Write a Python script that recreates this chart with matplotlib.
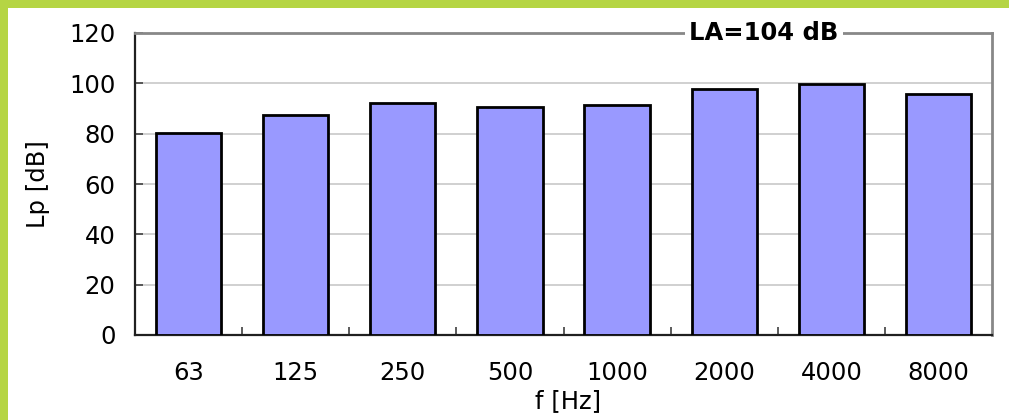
import matplotlib.pyplot as plt
import matplotlib.patches as mpatches
import numpy as np

freqs = ['63', '125', '250', '500', '1000', '2000', '4000', '8000']
lp_db = [80.2, 87.6, 92.3, 90.5, 91.4, 97.7, 99.7, 95.9]
la_label = 'LA=104 dB'

plt.rcParams['font.family'] = ['DejaVu Sans']
fs = 17.5

fig = plt.figure(figsize=(10.09, 4.2), dpi=100)
fig.patch.set_facecolor('white')

# green frame strips (top and left)
green = '#b5d544'
fig.patches.append(mpatches.Rectangle((0, 1 - 8 / 420), 1, 8 / 420, transform=fig.transFigure,
                                      facecolor=green, edgecolor='none', zorder=0))
fig.patches.append(mpatches.Rectangle((0, 0), 8 / 1009, 1, transform=fig.transFigure,
                                      facecolor=green, edgecolor='none', zorder=0))

ax = fig.add_axes([135 / 1009, 1 - 335 / 420, 857 / 1009, 302 / 420])
x = np.arange(len(freqs))
ax.bar(x, lp_db, width=0.61, color='#9999ff', edgecolor='black', linewidth=2, zorder=3)

ax.set_xlim(-0.5, len(freqs) - 0.5)
ax.set_ylim(0, 120)
ax.set_yticks(range(0, 121, 20))
ax.yaxis.grid(True, color='#c8c8c8', linewidth=1.2, zorder=0)

ax.set_xticks(x)
ax.set_xticklabels(freqs, fontsize=fs)
ax.set_xticks(np.arange(0.5, len(freqs) - 0.5, 1), minor=True)
ax.tick_params(axis='x', which='major', length=0, pad=19)
ax.tick_params(axis='x', which='minor', direction='in', length=6, width=1.2, color='#404040')
ax.tick_params(axis='y', direction='in', length=6, width=1.2, labelsize=fs, pad=14, color='#404040')

for side in ['left', 'bottom']:
    ax.spines[side].set_color('#202020')
    ax.spines[side].set_linewidth(1.6)
for side in ['top', 'right']:
    ax.spines[side].set_color('#888888')
    ax.spines[side].set_linewidth(2)

ax.set_xlabel('f [Hz]', fontsize=fs, labelpad=5)
ax.xaxis.set_label_coords(0.505, -0.18)
ax.xaxis.label.set_va('top')
ax.set_ylabel('Lp [dB]', fontsize=fs, labelpad=14)

ax.text(0.734, 1.0, la_label, transform=ax.transAxes, ha='center', va='center',
        fontsize=fs, fontweight='bold', zorder=5,
        bbox=dict(facecolor='white', edgecolor='none', pad=3))

fig.savefig('out.png', dpi=100, facecolor='white')
